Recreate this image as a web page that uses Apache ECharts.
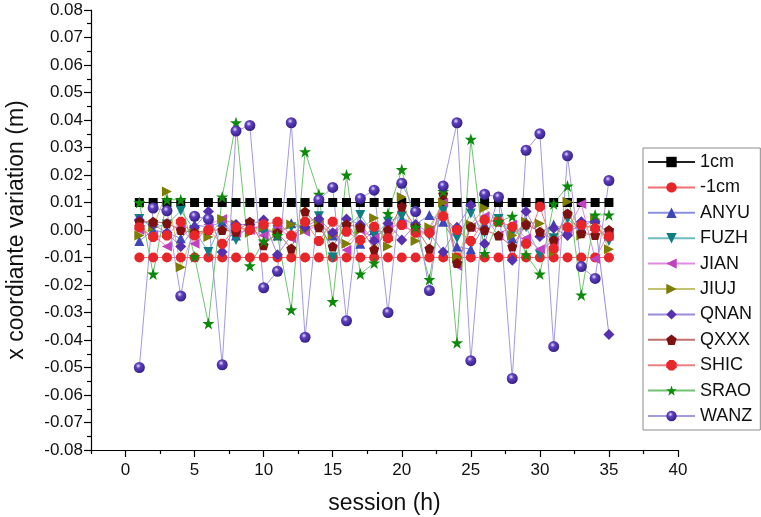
<!DOCTYPE html>
<html>
<head>
<meta charset="utf-8">
<script src="https://cdn.jsdelivr.net/npm/echarts@6/dist/echarts.min.js"></script>
<style>
  html, body { margin: 0; padding: 0; background: #fff; }
  #chart { width: 761px; height: 517px; }
</style>
</head>
<body>
<div id="chart"></div>
<script>
// session numbers (h)
const sessions = [1, 2, 3, 4, 5, 6, 7, 8, 9, 10, 11, 12, 13, 14, 15, 16, 17, 18, 19, 20,
    21, 22, 23, 24, 25, 26, 27, 28, 29, 30, 31, 32, 33, 34, 35];

// reference lines
const oneCm = [0.01, 0.01, 0.01, 0.01, 0.01, 0.01, 0.01, 0.01, 0.01, 0.01, 0.01, 0.01, 0.01, 0.01, 0.01, 0.01, 0.01, 0.01,
    0.01, 0.01, 0.01, 0.01, 0.01, 0.01, 0.01, 0.01, 0.01, 0.01, 0.01, 0.01, 0.01, 0.01, 0.01, 0.01, 0.01];
const minusOneCm = [-0.01, -0.01, -0.01, -0.01, -0.01, -0.01, -0.01, -0.01, -0.01, -0.01, -0.01, -0.01, -0.01, -0.01, -0.01, -0.01, -0.01, -0.01,
    -0.01, -0.01, -0.01, -0.01, -0.01, -0.01, -0.01, -0.01, -0.01, -0.01, -0.01, -0.01, -0.01, -0.01, -0.01, -0.01, -0.01];

// station x variations (m)
const anyu = [-0.004, 0.000, -0.001, -0.003, 0.002, 0.001, 0.003, -0.002, 0.001, 0.001, -0.002, 0.0025, 0.001, 0.002, -0.002, 0.003, -0.005, 0.000,
    -0.001, 0.004, 0.002, 0.0055, 0.003, -0.006, -0.007, 0.002, 0.004, -0.003, 0.003, -0.001, 0.002, 0.000, 0.001, 0.004, -0.002];
const fuzh = [0.004, 0.001, 0.002, 0.007, 0.000, -0.008, 0.003, -0.0036, 0.002, -0.001, 0.000, 0.001, 0.002, 0.005, -0.010, 0.001, 0.0055, -0.002,
    0.003, 0.005, 0.001, -0.002, 0.007, -0.003, 0.006, -0.001, 0.004, -0.001, 0.001, -0.009, -0.003, 0.004, 0.000, 0.002, -0.004];
const jian = [0.000, -0.002, -0.006, 0.001, -0.005, 0.002, 0.004, -0.001, 0.000, -0.002, 0.001, -0.003, -0.0006, 0.002, -0.001, -0.0073, 0.000, -0.003,
    0.001, 0.002, -0.001, 0.000, 0.010, -0.013, 0.001, 0.005, -0.002, 0.002, -0.003, -0.007, -0.004, 0.000, 0.0095, -0.0105, -0.001];
const jiuj = [-0.002, 0.001, 0.014, -0.0135, 0.000, -0.0025, 0.004, 0.002, -0.001, 0.001, -0.001, 0.002, 0.000, 0.003, -0.002, -0.005, 0.000, 0.0044,
    -0.006, 0.012, -0.004, 0.001, 0.010, -0.010, 0.002, 0.008, 0.003, -0.002, 0.003, 0.0024, -0.008, 0.0103, -0.002, 0.004, -0.007];
const qnan = [0.0036, 0.002, -0.001, -0.006, 0.001, 0.0067, -0.008, 0.002, 0.002, 0.0036, -0.009, -0.002, 0.001, 0.004, -0.001, 0.004, 0.002, -0.004,
    0.0024, -0.0036, 0.002, -0.001, -0.008, 0.001, 0.009, -0.005, 0.012, -0.011, 0.0067, -0.0024, 0.0006, -0.002, 0.003, 0.003, -0.038];
const qxxx = [0.003, 0.003, 0.0025, 0.000, -0.001, 0.000, 0.000, -0.0006, 0.003, -0.0055, -0.001, -0.0067, 0.0067, 0.001, -0.006, 0.002, 0.001, -0.007,
    0.000, 0.0085, 0.001, -0.0067, 0.013, -0.012, 0.0012, 0.000, -0.002, -0.006, 0.002, -0.0006, -0.0036, 0.006, -0.0012, -0.0018, 0.000];
const shic = [0.001, -0.0025, -0.002, 0.003, -0.002, 0.000, -0.005, 0.001, 0.000, 0.002, 0.003, -0.002, 0.003, -0.004, 0.003, -0.0006, -0.0036, 0.0012,
    -0.003, 0.0018, -0.001, -0.001, 0.005, 0.000, -0.004, 0.0036, 0.003, 0.0012, -0.005, 0.0085, -0.0067, 0.001, 0.0018, 0.0006, -0.0024];
const srao = [0.010, -0.016, 0.011, 0.011, -0.0097, -0.034, 0.012, 0.039, -0.013, -0.004, -0.002, -0.029, 0.0285, 0.013, -0.026, 0.020, -0.016, -0.012,
    0.006, 0.022, 0.001, -0.018, 0.014, -0.041, 0.033, -0.0085, 0.003, 0.005, -0.009, -0.016, 0.0095, 0.016, -0.0236, 0.0055, 0.0055];
const wanz = [-0.050, 0.008, 0.007, -0.024, 0.005, 0.004, -0.049, 0.036, 0.038, -0.021, -0.015, 0.039, -0.039, 0.011, 0.0155, -0.033, 0.0115, 0.0145,
    -0.030, 0.017, 0.0067, -0.022, 0.016, 0.039, -0.0475, 0.013, 0.012, -0.054, 0.029, 0.035, -0.0424, 0.027, -0.0133, -0.0176, 0.018];

// axis ticks
const xMajorTicks = [0, 5, 10, 15, 20, 25, 30, 35, 40];
const xMinorTicks = [-2.5, 2.5, 7.5, 12.5, 17.5, 22.5, 27.5, 32.5, 37.5];

const STAR = 'path://M50,0 L61.8,35.1 L98.9,35.1 L69.1,56.7 L80.2,91.9 L50,70.2 L19.8,91.9 L30.9,56.7 L1.1,35.1 L38.2,35.1 Z';
const PENTAGON = 'path://M50,0 L97.6,34.5 L79.4,90.5 L20.6,90.5 L2.4,34.5 Z';
const OCTAGON = 'path://M30,0 L70,0 L100,30 L100,70 L70,100 L30,100 L0,70 L0,30 Z';
const SPHERE = {
    type: 'radial', x: 0.4, y: 0.35, r: 0.65,
    colorStops: [
        { offset: 0, color: '#e6e0ff' },
        { offset: 0.35, color: '#5e3fbc' },
        { offset: 1, color: '#35208a' }
    ]
};

const FONT = '"Liberation Sans", Arial, sans-serif';

function makeSeries(name, values, symbol, color, lineColor, size, rotate) {
    return {
        name: name,
        type: 'line',
        data: sessions.map((s, i) => [s, values[i]]),
        symbol: symbol,
        symbolSize: size,
        symbolRotate: rotate || 0,
        showAllSymbol: true,
        itemStyle: { color: color, borderWidth: 0 },
        lineStyle: { color: lineColor, width: 1 },
        emphasis: { disabled: true },
        animation: false
    };
}

const chart = echarts.init(document.getElementById('chart'));

const option = {
    backgroundColor: '#ffffff',
    animation: false,
    grid: { left: 91, right: 83, top: 10, bottom: 67, outerBoundsMode: 'none' },
    legend: {
        orient: 'vertical',
        left: 643,
        top: 148,
        padding: [5, 8, 5, 4],
        itemWidth: 47,
        itemHeight: 13,
        itemGap: 7.4,
        borderColor: '#8c8c8c',
        borderWidth: 1,
        textStyle: { fontSize: 18, fontFamily: FONT, color: '#111' },
        data: ['1cm', '-1cm', 'ANYU', 'FUZH', 'JIAN', 'JIUJ', 'QNAN', 'QXXX', 'SHIC', 'SRAO', 'WANZ']
    },
    xAxis: [
        {
            type: 'value',
            min: -2.5,
            max: 40,
            name: 'session (h)',
            nameLocation: 'middle',
            nameGap: 42,
            nameTextStyle: { fontSize: 23, fontFamily: FONT, color: '#111' },
            axisLine: { show: true, onZero: false, lineStyle: { color: '#000', width: 1.2 } },
            axisTick: { show: true, inside: false, length: 7, customValues: xMajorTicks, lineStyle: { color: '#000', width: 1.2 } },
            axisLabel: { customValues: xMajorTicks, fontSize: 17, fontFamily: FONT, color: '#111', margin: 12 },
            splitLine: { show: false }
        },
        {
            // minor ticks between the labelled ones
            type: 'value',
            min: -2.5,
            max: 40,
            position: 'bottom',
            axisLine: { show: false, onZero: false },
            axisTick: { show: true, inside: false, length: 4, customValues: xMinorTicks, lineStyle: { color: '#000', width: 1.2 } },
            axisLabel: { show: false },
            splitLine: { show: false }
        }
    ],
    yAxis: {
        type: 'value',
        min: -0.08,
        max: 0.08,
        interval: 0.01,
        name: 'x coordiante variation (m)',
        nameLocation: 'middle',
        nameGap: 63,
        nameTextStyle: { fontSize: 23, fontFamily: FONT, color: '#111' },
        axisLine: { show: true, onZero: false, lineStyle: { color: '#000', width: 1.2 } },
        axisTick: { show: true, inside: false, length: 7, lineStyle: { color: '#000', width: 1.2 } },
        minorTick: { show: true, splitNumber: 2, length: 4, lineStyle: { color: '#000', width: 1.2 } },
        axisLabel: {
            fontSize: 17, fontFamily: FONT, color: '#111', margin: 8,
            formatter: v => v.toFixed(2)
        },
        splitLine: { show: false },
        minorSplitLine: { show: false }
    },
    series: [
        makeSeries('1cm', oneCm, 'rect', '#000000', '#222222', 9),
        makeSeries('-1cm', minusOneCm, 'circle', '#e8262a', '#f07070', 10),
        makeSeries('ANYU', anyu, 'triangle', '#3e47b8', '#8a90dc', 10),
        makeSeries('FUZH', fuzh, 'triangle', '#0e7f80', '#6fbcbc', 10, 180),
        makeSeries('JIAN', jian, 'triangle', '#c042c0', '#e08ce0', 10, 90),
        makeSeries('JIUJ', jiuj, 'triangle', '#7c7c00', '#c2c270', 10, -90),
        makeSeries('QNAN', qnan, 'diamond', '#5630ae', '#9f8add', 11),
        makeSeries('QXXX', qxxx, PENTAGON, '#7e1010', '#c27070', 10),
        makeSeries('SHIC', shic, OCTAGON, '#e8262a', '#f08080', 10),
        makeSeries('SRAO', srao, STAR, '#0b8a0b', '#72c272', 12),
        makeSeries('WANZ', wanz, 'circle', SPHERE, '#a39ae0', 11)
    ]
};

chart.setOption(option);
</script>
</body>
</html>
